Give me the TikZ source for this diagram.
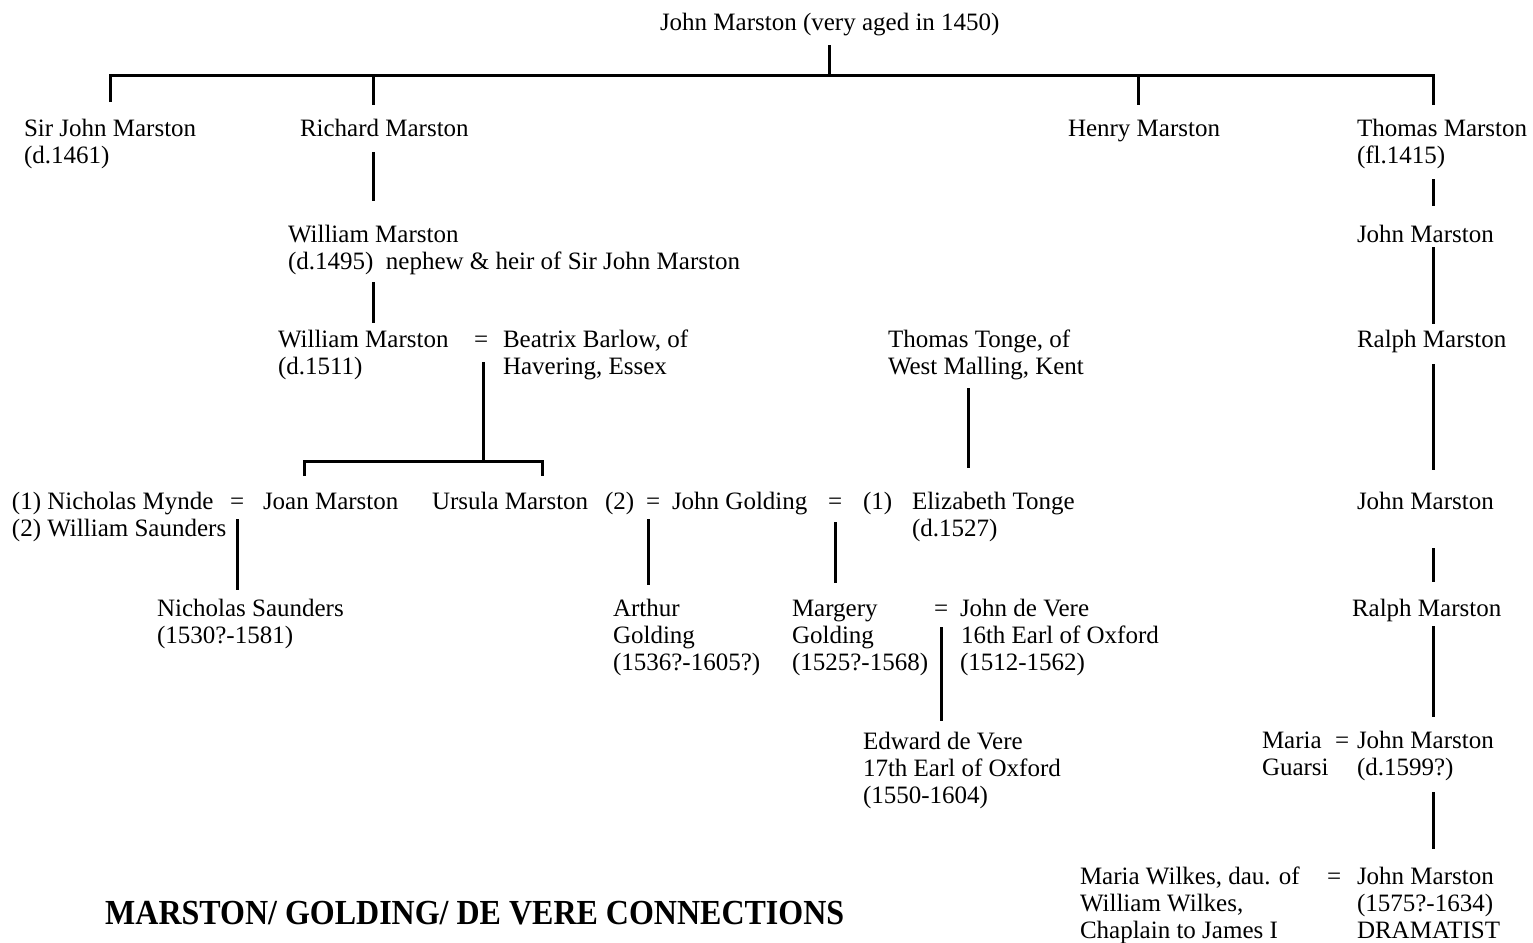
\documentclass[tikz,border=0pt]{standalone}
\usepackage{fontspec}
\setmainfont{Liberation Serif}
\usepackage{graphicx}
\newcommand{\pfont}{\fontsize{25}{27}\selectfont}
\begin{document}
\begin{tikzpicture}[x=1pt,y=-1pt,
  pn/.style={anchor=north west, inner sep=0pt, outer sep=0pt, align=left, font=\pfont, yshift=18.9pt},
  conn/.style={line width=3pt, line join=miter},
  ttl/.style={anchor=base west, inner sep=0pt, font=\fontsize{32}{36}\selectfont\bfseries}]
\fill[white] (0,0) rectangle (1533,942);
\useasboundingbox (0,0) rectangle (1533,942);

% generation 0
\node[pn] (top) at (660,31) {\strut John Marston (very aged in 1450)\strut};
% generation 1
\node[pn] (sirjohn) at (24,136) {\strut Sir John Marston\\(d.1461)\strut};
\node[pn] (richard) at (300,136) {\strut Richard Marston\strut};
\node[pn] (henry) at (1068,136) {\strut Henry Marston\strut};
\node[pn] (thomas) at (1357,136) {\strut Thomas Marston\\(fl.1415)\strut};
% generation 2
\node[pn] (william1) at (288,242) {\strut William Marston\\(d.1495)\ \ nephew \& heir of Sir John Marston\strut};
\node[pn] (john1) at (1357,242) {\strut John Marston\strut};
% generation 3
\node[pn] (william2) at (278,347) {\strut William Marston\\(d.1511)\strut};
\node[pn] (eq1) at (474,347) {\strut=\strut};
\node[pn] (beatrix) at (503,347) {\strut Beatrix Barlow, of\\Havering, Essex\strut};
\node[pn] (tonge) at (888,347) {\strut Thomas Tonge, of\\West Malling, Kent\strut};
\node[pn] (ralph1) at (1357,347) {\strut Ralph Marston\strut};
% generation 4
\node[pn] (nich) at (12,509) {\strut(1) Nicholas Mynde\\(2) William Saunders\strut};
\node[pn] (eq2) at (230,509) {\strut=\strut};
\node[pn] (joan) at (263,509) {\strut Joan Marston\strut};
\node[pn] (ursula) at (432,509) {\strut Ursula Marston\strut};
\node[pn] (two) at (605,509) {\strut(2)\strut};
\node[pn] (eq3) at (646,509) {\strut=\strut};
\node[pn] (golding) at (672,509) {\strut John Golding\strut};
\node[pn] (eq4) at (828,509) {\strut=\strut};
\node[pn] (one) at (863,509) {\strut(1)\strut};
\node[pn] (eliz) at (912,509) {\strut Elizabeth Tonge\\(d.1527)\strut};
\node[pn] (john2) at (1357,509) {\strut John Marston\strut};
% generation 5
\node[pn] (nsaunders) at (157,616) {\strut Nicholas Saunders\\(1530?-1581)\strut};
\node[pn] (arthur) at (613,616) {\strut Arthur\\Golding\\(1536?-1605?)\strut};
\node[pn] (margery) at (792,616) {\strut Margery\\Golding\\(1525?-1568)\strut};
\node[pn] (eq5) at (934,616) {\strut=\strut};
\node[pn] (devere) at (960,616) {\strut John de Vere\\\hspace{1pt}16th Earl of Oxford\\(1512-1562)\strut};
\node[pn] (ralph2) at (1352,616) {\strut Ralph Marston\strut};
% generation 6
\node[pn] (edward) at (863,749) {\strut Edward de Vere\\17th Earl of Oxford\\(1550-1604)\strut};
\node[pn] (maria) at (1262,748) {\strut Maria\\Guarsi\strut};
\node[pn] (eq6) at (1335,748) {\strut=\strut};
\node[pn] (john3) at (1357,748) {\strut John Marston\\(d.1599?)\strut};
% generation 7
\node[pn] (wilkes) at (1080,884) {\strut Maria Wilkes, dau. of\\William Wilkes,\\Chaplain to James I\strut};
\node[pn] (eq7) at (1327,884) {\strut=\strut};
\node[pn] (john4) at (1357,884) {\strut John Marston\\(1575?-1634)\\DRAMATIST\strut};
% title
\node[ttl] (title) at (105,924) {\scalebox{1}[1.1]{MARSTON/ GOLDING/ DE VERE CONNECTIONS}};

% connector coordinates
\coordinate (bA) at (110,75);
\coordinate (bB) at (373,75);
\coordinate (bC) at (829,75);
\coordinate (bD) at (1138,75);
\coordinate (bE) at (1433,75);
\coordinate (sB) at (483,461);
\coordinate (sJ) at (304,461);
\coordinate (sU) at (542,461);
\coordinate (xT) at (968,0);
\coordinate (xN) at (237,0);
\coordinate (xA) at (648,0);
\coordinate (xG) at (835,0);
\coordinate (xV) at (941,0);
\coordinate (xM) at (1433,0);

% connectors
\draw[conn, shorten <=6pt] (top.south -| bC) -- (bC);
\draw[conn, shorten <=15pt, shorten >=12pt] (sirjohn.north -| bA) -- (bA) -- (bE) -- (thomas.north -| bE);
\draw[conn, shorten >=12pt] (bB) -- (richard.north -| bB);
\draw[conn, shorten >=12pt] (bD) -- (henry.north -| bD);
\draw[conn, shorten <=8pt, shorten >=22pt] (richard.south -| bB) -- (william1.north -| bB);
\draw[conn, shorten <=5pt, shorten >=5pt] (william1.south -| bB) -- (william2.north -| bB);
\draw[conn, shorten <=7pt] (eq1.south -| sB) -- (sB);
\draw[conn, shorten <=14pt, shorten >=14pt] (joan.north -| sJ) -- (sJ) -- (sU) -- (ursula.north -| sU);
\draw[conn, shorten <=6pt, shorten >=22pt] (tonge.south -| xT) -- (eliz.north -| xT);
\draw[conn, shorten <=2pt, shorten >=7pt] (eq2.south -| xN) -- (nsaunders.north -| xN);
\draw[conn, shorten <=2pt, shorten >=12pt] (eq3.south -| xA) -- (arthur.north -| xA);
\draw[conn, shorten <=5pt, shorten >=14pt] (eq4.south -| xG) -- (margery.north -| xG);
\draw[conn, shorten <=3pt, shorten >=9pt] (eq5.south -| xV) -- (edward.north -| xV);
\draw[conn, shorten <=8pt, shorten >=17pt] (thomas.south -| xM) -- (john1.north -| xM);
\draw[conn, shorten <=-3pt, shorten >=4pt] (john1.south -| xM) -- (ralph1.north -| xM);
\draw[conn, shorten <=9pt, shorten >=20pt] (ralph1.south -| xM) -- (john2.north -| xM);
\draw[conn, shorten <=31pt, shorten >=15pt] (john2.south -| xM) -- (ralph2.north -| xM);
\draw[conn, shorten <=2pt, shorten >=12pt] (ralph2.south -| xM) -- (john3.north -| xM);
\draw[conn, shorten <=9pt, shorten >=16pt] (john3.south -| xM) -- (john4.north -| xM);
\end{tikzpicture}
\end{document}
